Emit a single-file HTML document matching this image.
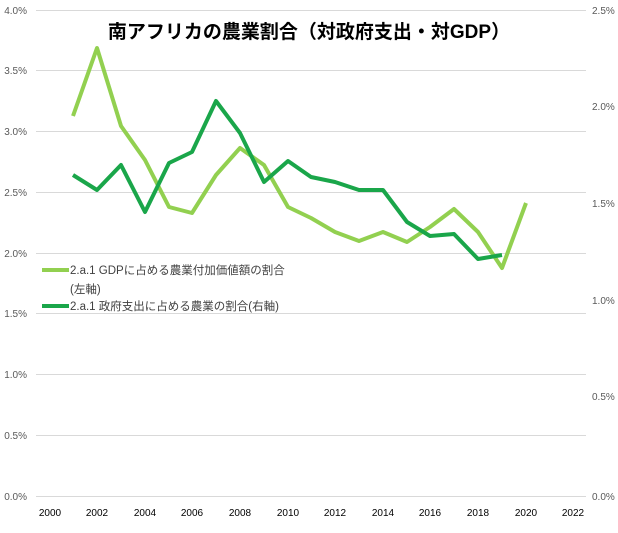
<!DOCTYPE html>
<html><head><meta charset="utf-8"><style>
body{margin:0;background:#fff;}
svg text{font-family:"Liberation Sans","Noto Sans CJK JP",sans-serif;}
</style></head><body>
<svg width="618" height="528" viewBox="0 0 618 528">
<rect width="618" height="528" fill="#fff"/>
<g stroke="#d9d9d9" stroke-width="1">
<line x1="36" x2="586" y1="10.5" y2="10.5"/>
<line x1="36" x2="586" y1="70.5" y2="70.5"/>
<line x1="36" x2="586" y1="131.5" y2="131.5"/>
<line x1="36" x2="586" y1="192.5" y2="192.5"/>
<line x1="36" x2="586" y1="253.5" y2="253.5"/>
<line x1="36" x2="586" y1="313.5" y2="313.5"/>
<line x1="36" x2="586" y1="374.5" y2="374.5"/>
<line x1="36" x2="586" y1="435.5" y2="435.5"/>
<line x1="36" x2="586" y1="496.5" y2="496.5"/>
</g>
<g font-size="10" fill="#595959" text-anchor="end">
<text x="27" y="14">4.0%</text><text x="27" y="74">3.5%</text><text x="27" y="135">3.0%</text>
<text x="27" y="196">2.5%</text><text x="27" y="257">2.0%</text><text x="27" y="317">1.5%</text>
<text x="27" y="378">1.0%</text><text x="27" y="439">0.5%</text><text x="27" y="500">0.0%</text>
</g>
<g font-size="10" fill="#595959" text-anchor="start">
<text x="592" y="14">2.5%</text><text x="592" y="110">2.0%</text><text x="592" y="207">1.5%</text>
<text x="592" y="304">1.0%</text><text x="592" y="400">0.5%</text><text x="592" y="500">0.0%</text>
</g>
<g font-size="10" fill="#000" text-anchor="middle">
<text x="50" y="516">2000</text><text x="97" y="516">2002</text><text x="145" y="516">2004</text>
<text x="192" y="516">2006</text><text x="240" y="516">2008</text><text x="288" y="516">2010</text>
<text x="335" y="516">2012</text><text x="383" y="516">2014</text><text x="430" y="516">2016</text>
<text x="478" y="516">2018</text><text x="526" y="516">2020</text><text x="573" y="516">2022</text>
</g>
<text x="309" y="38" font-size="19" font-weight="bold" text-anchor="middle" fill="#000">南アフリカの農業割合（対政府支出・対GDP）</text>
<polyline fill="none" stroke="#92d050" stroke-width="4" stroke-linejoin="round" points="73,116 97,48 121,126 145,160 169,207 192,213 216,175 240,148 264,165 288,207 311,218 335,232 359,241 383,232 407,242 430,227 454,209 478,232 502,268 526,203"/>
<polyline fill="none" stroke="#1aa64a" stroke-width="4" stroke-linejoin="round" points="73,175 97,190 121,165 145,212 169,163 192,152 216,101 240,133 264,182 288,161 311,177 335,182 359,190 383,190 407,222 430,236 454,234 478,259 502,255"/>
<line x1="42" x2="69" y1="270" y2="270" stroke="#92d050" stroke-width="4"/>
<line x1="42" x2="69" y1="306" y2="306" stroke="#1aa64a" stroke-width="4"/>
<g font-size="11.5" fill="#404040">
<text x="70" y="274">2.a.1 GDPに占める農業付加価値額の割合</text>
<text x="70" y="293">(左軸)</text>
<text x="70" y="310">2.a.1 政府支出に占める農業の割合(右軸)</text>
</g>
</svg>
</body></html>
